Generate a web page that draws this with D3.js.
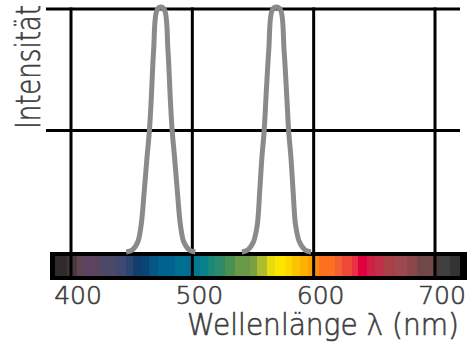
<!DOCTYPE html>
<html>
<head>
<meta charset="utf-8">
<script src="https://cdn.jsdelivr.net/npm/d3@7"></script>
<style>
  html, body { margin: 0; padding: 0; background: #fff; }
  svg { display: block; }
</style>
</head>
<body>
<svg id="chart" width="467" height="342"></svg>
<script>
// Wavelength ticks (nm)
const nmTicks = [400, 500, 600, 700];
// Relative intensity levels with horizontal grid lines
const levelLines = [1, 0.5];

// Emission spectrum of the blue LED: [wavelength nm, relative intensity]
const blueLed = [
  [445.5, 0], [450.5, 0.008], [455, 0.041], [457.8, 0.111], [460.3, 0.247],
  [462.6, 0.387], [464.6, 0.498], [466.1, 0.626], [468.1, 0.831], [470.9, 0.996],
  [474, 1.008], [477.1, 0.996], [479.9, 0.831], [481.9, 0.626], [483.4, 0.498],
  [485.4, 0.387], [487.7, 0.247], [490.2, 0.111], [493, 0.041], [497.5, 0.008],
  [502.5, 0]
];
// Emission spectrum of the green LED
const greenLed = [
  [540.8, 0], [545.6, 0.008], [550.3, 0.041], [553.5, 0.111], [555.5, 0.247],
  [557.3, 0.387], [559.2, 0.498], [560.6, 0.626], [563, 0.831], [565.9, 0.996],
  [569.3, 1.008], [572.7, 0.996], [575.6, 0.831], [578, 0.626], [579.4, 0.498],
  [581.3, 0.387], [583.1, 0.247], [585.1, 0.111], [588.3, 0.041], [593, 0.008],
  [597.8, 0]
];

// Visible spectrum strip: band edges (nm) and the colour of each band
const specEdges = [387.1, 396.5, 400.8, 404.7, 410.1, 423.9, 437.1, 445.7, 450.7, 458.9,
  464.3, 471.9, 485.7, 498.9, 506.3, 513.2, 518.7, 526.9, 535.2, 547.5, 553.1, 561.3,
  568.1, 576.4, 581.9, 588.7, 595.6, 600.3, 604.4, 617.6, 623.1, 631.4, 636.8, 643.7,
  650.6, 658.2, 667.0, 676.7, 684.9, 698.6, 704.1, 712.4, 720.6];
const specColors = ["#312a2b", "#3e3438", "#4a3a40", "#5c4652", "#5c4360", "#4c4868",
  "#3e4870", "#2c4470", "#113e6c", "#0a4578", "#055585", "#00628e", "#006e90", "#007a92",
  "#08818a", "#1a8878", "#2e8a68", "#4a9050", "#6a9a48", "#7aa040", "#b0bc30", "#e8dc10",
  "#fce600", "#fcd800", "#fcc400", "#fcb000", "#fca000", "#fc8c10", "#fc7020", "#f06030",
  "#f04838", "#e83040", "#e00040", "#d02045", "#c03048", "#a84048", "#a04850", "#8c4848",
  "#704848", "#4a3a3a", "#404040", "#333333"];

const svg = d3.select("#chart");
const x = d3.scaleLinear().domain([400, 700]).range([71, 435]);
const y = d3.scaleLinear().domain([0, 1]).range([252, 9]);

const gridLeft = 379.4, gridRight = 720.6;   // extent of horizontal grid lines (nm)
const barLeft = 382.7, barRight = 730;       // extent of the framed strip (nm)
const stripTop = 252, stripBottom = 280, stripInset = 4;

// Spectrum strip frame
svg.append("rect")
  .attr("x", x(barLeft)).attr("y", stripTop)
  .attr("width", x(barRight) - x(barLeft)).attr("height", stripBottom - stripTop)
  .attr("fill", "#000");

// Spectrum colour bands
const bands = specColors.map((c, i) => ({ a: specEdges[i], b: specEdges[i + 1], c }));
svg.append("g").selectAll("rect").data(bands).join("rect")
  .attr("x", d => x(d.a))
  .attr("y", stripTop + stripInset)
  .attr("width", d => x(d.b) - x(d.a) + 0.4)
  .attr("height", stripBottom - stripTop - 2 * stripInset)
  .attr("fill", d => d.c)
  .attr("shape-rendering", "crispEdges");

// Vertical grid lines, running down through the strip
svg.append("g").selectAll("line").data(nmTicks).join("line")
  .attr("x1", d => x(d)).attr("x2", d => x(d))
  .attr("y1", y(1) - 1.5).attr("y2", stripBottom - 1)
  .attr("stroke", "#000").attr("stroke-width", 3);

// Horizontal grid lines
svg.append("g").selectAll("line").data(levelLines).join("line")
  .attr("x1", x(gridLeft)).attr("x2", x(gridRight))
  .attr("y1", d => y(d)).attr("y2", d => y(d))
  .attr("stroke", "#000").attr("stroke-width", 3);

// LED emission curves
const line = d3.line().x(d => x(d[0])).y(d => y(d[1])).curve(d3.curveCatmullRom.alpha(0.5));
svg.append("g").selectAll("path").data([blueLed, greenLed]).join("path")
  .attr("d", line)
  .attr("fill", "none")
  .attr("stroke", "#8a8a8a")
  .attr("stroke-width", 5)
  .attr("stroke-linejoin", "round");

// Shared text style: thin sans in dark grey, slightly thickened
function textStyle(sel, size) {
  sel.attr("font-family", "DejaVu Sans")
    .attr("font-weight", 200)
    .attr("font-size", size)
    .attr("fill", "#3c3c3c")
    .attr("stroke", "#3c3c3c")
    .attr("stroke-width", 0.6);
}

// Wavelength tick labels
const axis = svg.append("g")
  .attr("transform", `translate(6.5,${stripBottom})`)
  .call(d3.axisBottom(x).tickValues(nmTicks).tickSize(0).tickFormat(d3.format("d")));
axis.select(".domain").remove();
axis.selectAll("text")
  .attr("y", 24).attr("dy", null)
  .call(textStyle, 25);

// Axis titles
svg.append("text")
  .attr("x", 187).attr("y", 335)
  .attr("textLength", 272).attr("lengthAdjust", "spacingAndGlyphs")
  .call(textStyle, 31)
  .text("Wellenlänge λ (nm)");

svg.append("text")
  .attr("transform", "translate(40,129) rotate(-90)")
  .attr("textLength", 124).attr("lengthAdjust", "spacingAndGlyphs")
  .call(textStyle, 34)
  .text("Intensität");
</script>
</body>
</html>
